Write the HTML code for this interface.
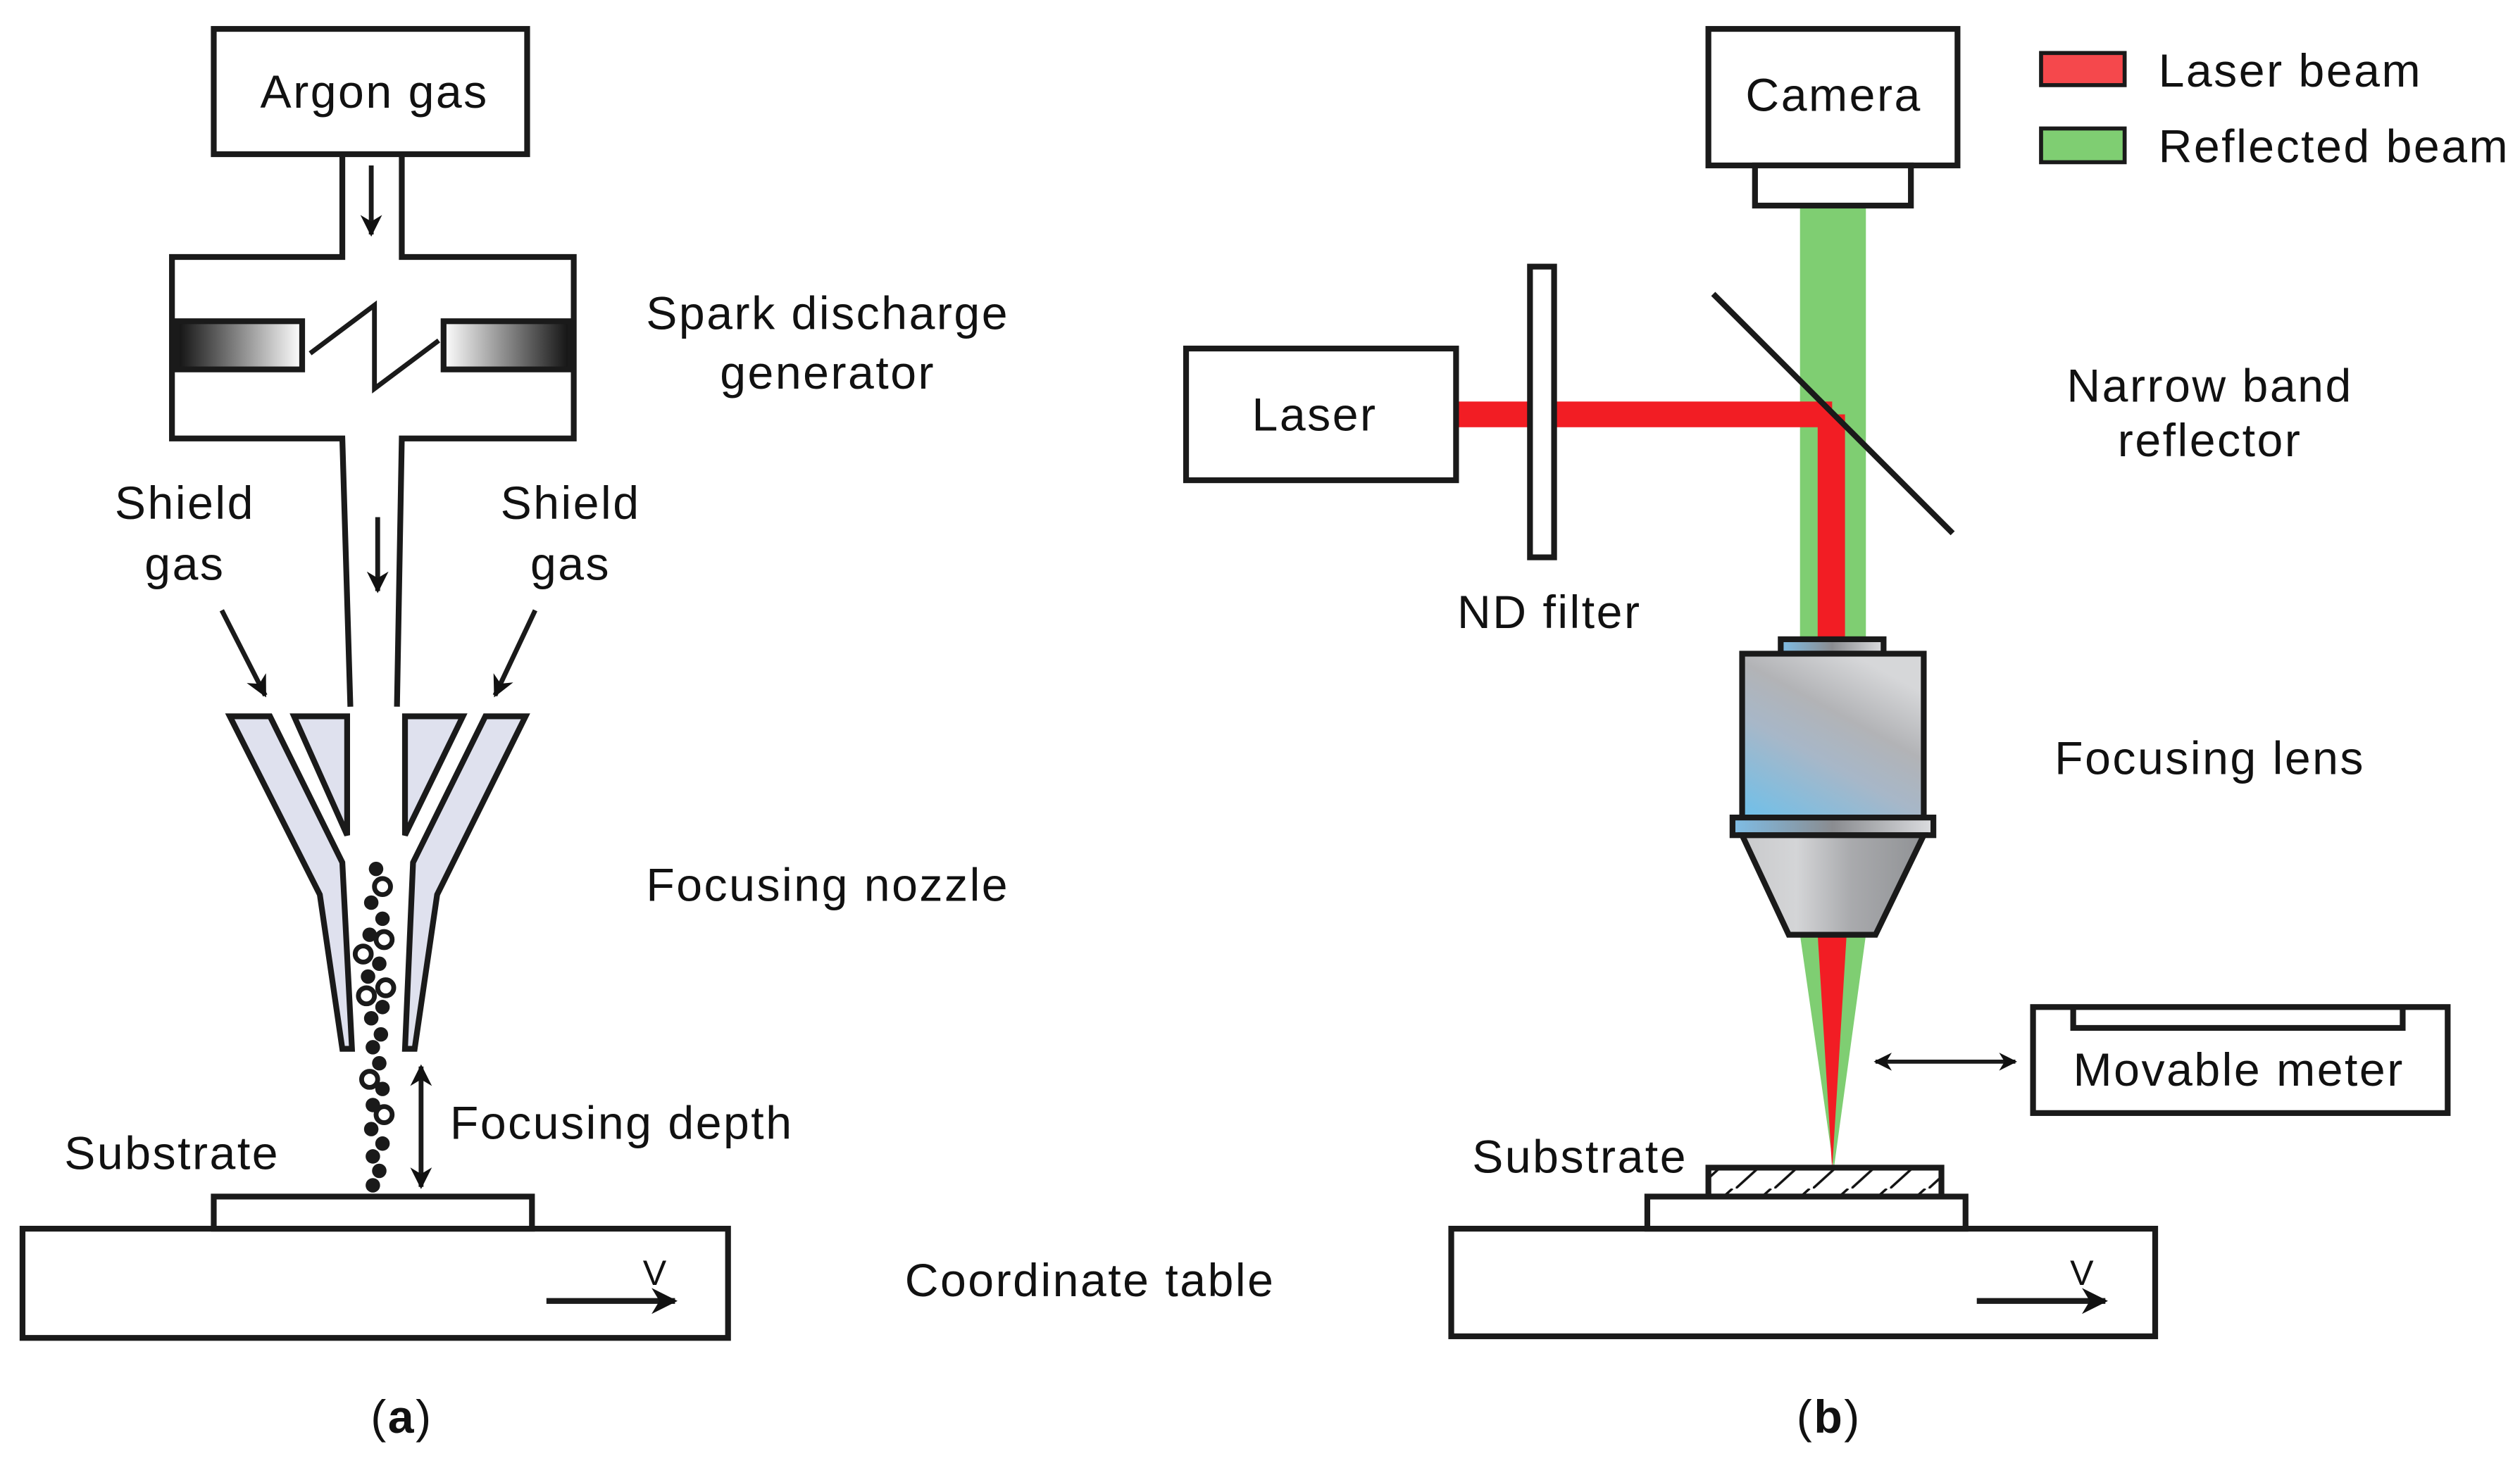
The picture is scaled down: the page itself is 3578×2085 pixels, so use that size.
<!DOCTYPE html>
<html><head><meta charset="utf-8"><style>html,body{margin:0;padding:0;background:#fff}svg{display:block}text{font-family:"Liberation Sans",sans-serif;fill:#111;letter-spacing:1.1px}</style></head><body>
<svg width="3578" height="2085" viewBox="0 0 1568 914" preserveAspectRatio="none" xmlns="http://www.w3.org/2000/svg">
<defs>
<linearGradient id="el" x1="0" x2="1"><stop offset="0" stop-color="#111"/><stop offset="1" stop-color="#fff"/></linearGradient>
<linearGradient id="er" x1="1" x2="0"><stop offset="0" stop-color="#111"/><stop offset="1" stop-color="#fff"/></linearGradient>
<linearGradient id="lb" x1="0" y1="1" x2="0.6" y2="0"><stop offset="0" stop-color="#6ec0ea"/><stop offset="0.45" stop-color="#a7b7c8"/><stop offset="0.7" stop-color="#b2b3b6"/><stop offset="1" stop-color="#d6d7d9"/></linearGradient>
<linearGradient id="cone" x1="0" x2="1"><stop offset="0" stop-color="#c9cacc"/><stop offset="0.3" stop-color="#d4d5d7"/><stop offset="0.6" stop-color="#a9aaad"/><stop offset="1" stop-color="#909295"/></linearGradient>
<linearGradient id="fl" x1="0" x2="1"><stop offset="0" stop-color="#7fbde6"/><stop offset="0.5" stop-color="#8a8c90"/><stop offset="1" stop-color="#dcdde0"/></linearGradient>
<marker id="ah" viewBox="0 0 10 10" refX="9" refY="5" markerWidth="4.5" markerHeight="4.5" orient="auto-start-reverse"><path d="M0,0 L10,5 L0,10 L3,5z" fill="#111"/></marker>
<pattern id="hatch" width="24" height="20" patternUnits="userSpaceOnUse"><path d="M0,20 L22,0" stroke="#111" stroke-width="1.5"/></pattern>
</defs>
<g fill="none" stroke="#1a1a1a" stroke-width="3.6">
<!-- panel a -->
<rect x="133" y="18" width="195" height="78" fill="#fff"/>
<path d="M213,96 V160 H107 V273 H213 L218,440 M250,96 V160 H357 V273 H250 L247,440"/>
<rect x="110" y="200" width="78" height="30" fill="url(#el)"/>
<rect x="276" y="200" width="79" height="30" fill="url(#er)"/>
<path d="M193,220 L233,190 L233,242 L273,212" stroke-width="3"/>
<line x1="231" y1="103" x2="231" y2="146" stroke-width="3" marker-end="url(#ah)"/>
<line x1="235" y1="322" x2="235" y2="368" stroke-width="3" marker-end="url(#ah)"/>
<line x1="138" y1="380" x2="165" y2="433" stroke-width="3" marker-end="url(#ah)"/>
<line x1="333" y1="380" x2="308" y2="433" stroke-width="3" marker-end="url(#ah)"/>
<polygon points="143,446 168,446 213,537 219,653 213,653 199,557" fill="#dfe1ee"/>
<polygon points="327,446 302,446 257,537 252,653 258,653 272,557" fill="#dfe1ee"/>
<polygon points="183,446 216,446 216,520" fill="#dfe1ee"/>
<polygon points="288,446 252,446 252,520" fill="#dfe1ee"/>
<line x1="262" y1="664" x2="262" y2="739" stroke-width="3" marker-start="url(#ah)" marker-end="url(#ah)"/>
<rect x="133" y="745" width="198" height="20" fill="#fff"/>
<rect x="14" y="765" width="439" height="68"/>
<line x1="340" y1="810" x2="420" y2="810" stroke-width="3.6" marker-end="url(#ah)"/>
<!-- panel b -->
<rect x="1120" y="128" width="41" height="272" fill="#7fce72" stroke="none"/>
<rect x="1131" y="258" width="17" height="142" fill="#f21d24" stroke="none"/>
<rect x="906" y="250" width="234" height="16" fill="#f21d24" stroke="none"/>
<polygon points="1120,582 1161,582 1141,728" fill="#7fce72" stroke="none"/>
<polygon points="1131,582 1149,582 1140,728" fill="#f21d24" stroke="none"/>
<rect x="1063" y="18" width="155" height="85" fill="#fff"/>
<rect x="1092" y="103" width="97" height="25" fill="#fff"/>
<rect x="738" y="217" width="168" height="82" fill="#fff"/>
<rect x="952" y="166" width="15" height="181" fill="#fff"/>
<line x1="1066" y1="183" x2="1215" y2="332"/>
<rect x="1108" y="398" width="64" height="9" fill="url(#fl)"/>
<rect x="1084" y="407" width="113" height="102" fill="url(#lb)"/>
<rect x="1078" y="509" width="125" height="11" fill="url(#fl)"/>
<polygon points="1084,520 1197,520 1167,582 1113,582" fill="url(#cone)"/>
<line x1="1167" y1="661" x2="1254" y2="661" stroke-width="2.5" marker-start="url(#ah)" marker-end="url(#ah)"/>
<rect x="1265" y="627" width="258" height="66"/>
<path d="M1290,627 V640 H1495 V627"/>
<rect x="1063" y="727" width="145" height="18" fill="url(#hatch)"/>
<rect x="1025" y="745" width="198" height="20" fill="#fff"/>
<rect x="903" y="765" width="438" height="67"/>
<line x1="1230" y1="810" x2="1310" y2="810" marker-end="url(#ah)"/>
<rect x="1270" y="33" width="52" height="20" fill="#f5484c" stroke-width="2.5"/>
<rect x="1270" y="80" width="52" height="21" fill="#7fce72" stroke-width="2.5"/>
</g>
<g fill="#1a1a1a">
<circle cx="234" cy="541" r="4.5"/><circle cx="238" cy="552" r="5" fill="none" stroke="#1a1a1a" stroke-width="3"/>
<circle cx="231" cy="562" r="4.5"/><circle cx="238" cy="572" r="4.5"/><circle cx="230" cy="582" r="4.5"/>
<circle cx="239" cy="585" r="5" fill="none" stroke="#1a1a1a" stroke-width="3"/><circle cx="226" cy="594" r="5" fill="none" stroke="#1a1a1a" stroke-width="3"/>
<circle cx="236" cy="600" r="4.5"/><circle cx="229" cy="608" r="4.5"/><circle cx="240" cy="615" r="5" fill="none" stroke="#1a1a1a" stroke-width="3"/>
<circle cx="228" cy="620" r="5" fill="none" stroke="#1a1a1a" stroke-width="3"/><circle cx="238" cy="627" r="4.5"/><circle cx="231" cy="634" r="4.5"/>
<circle cx="237" cy="644" r="4.5"/><circle cx="232" cy="652" r="4.5"/><circle cx="236" cy="662" r="4.5"/><circle cx="230" cy="672" r="5" fill="none" stroke="#1a1a1a" stroke-width="3"/>
<circle cx="238" cy="678" r="4.5"/><circle cx="232" cy="688" r="4.5"/><circle cx="239" cy="694" r="5" fill="none" stroke="#1a1a1a" stroke-width="3"/>
<circle cx="231" cy="703" r="4.5"/><circle cx="238" cy="712" r="4.5"/><circle cx="232" cy="720" r="4.5"/><circle cx="236" cy="729" r="4.5"/><circle cx="232" cy="738" r="4.5"/>
</g>
<g font-size="29">
<text x="233" y="67" text-anchor="middle">Argon gas</text>
<text x="515" y="205" text-anchor="middle">Spark discharge</text>
<text x="515" y="242" text-anchor="middle">generator</text>
<text x="115" y="323" text-anchor="middle">Shield</text>
<text x="115" y="361" text-anchor="middle">gas</text>
<text x="355" y="323" text-anchor="middle">Shield</text>
<text x="355" y="361" text-anchor="middle">gas</text>
<text x="402" y="561">Focusing nozzle</text>
<text x="280" y="709">Focusing depth</text>
<text x="40" y="728">Substrate</text>
<text x="563" y="807">Coordinate table</text>
<text x="400" y="800" font-size="22">V</text>
<text x="250" y="892" text-anchor="middle">(<tspan font-weight="bold">a</tspan>)</text>
<text x="1141" y="69" text-anchor="middle">Camera</text>
<text x="818" y="268" text-anchor="middle">Laser</text>
<text x="1375" y="250" text-anchor="middle">Narrow band</text>
<text x="1375" y="284" text-anchor="middle">reflector</text>
<text x="964" y="391" text-anchor="middle">ND filter</text>
<text x="1375" y="482" text-anchor="middle">Focusing lens</text>
<text x="1393" y="676" text-anchor="middle">Movable meter</text>
<text x="916" y="730">Substrate</text>
<text x="1288" y="800" font-size="22">V</text>
<text x="1343" y="54">Laser beam</text>
<text x="1343" y="101">Reflected beam</text>
<text x="1138" y="892" text-anchor="middle">(<tspan font-weight="bold">b</tspan>)</text>
</g>
</svg>
</body></html>
